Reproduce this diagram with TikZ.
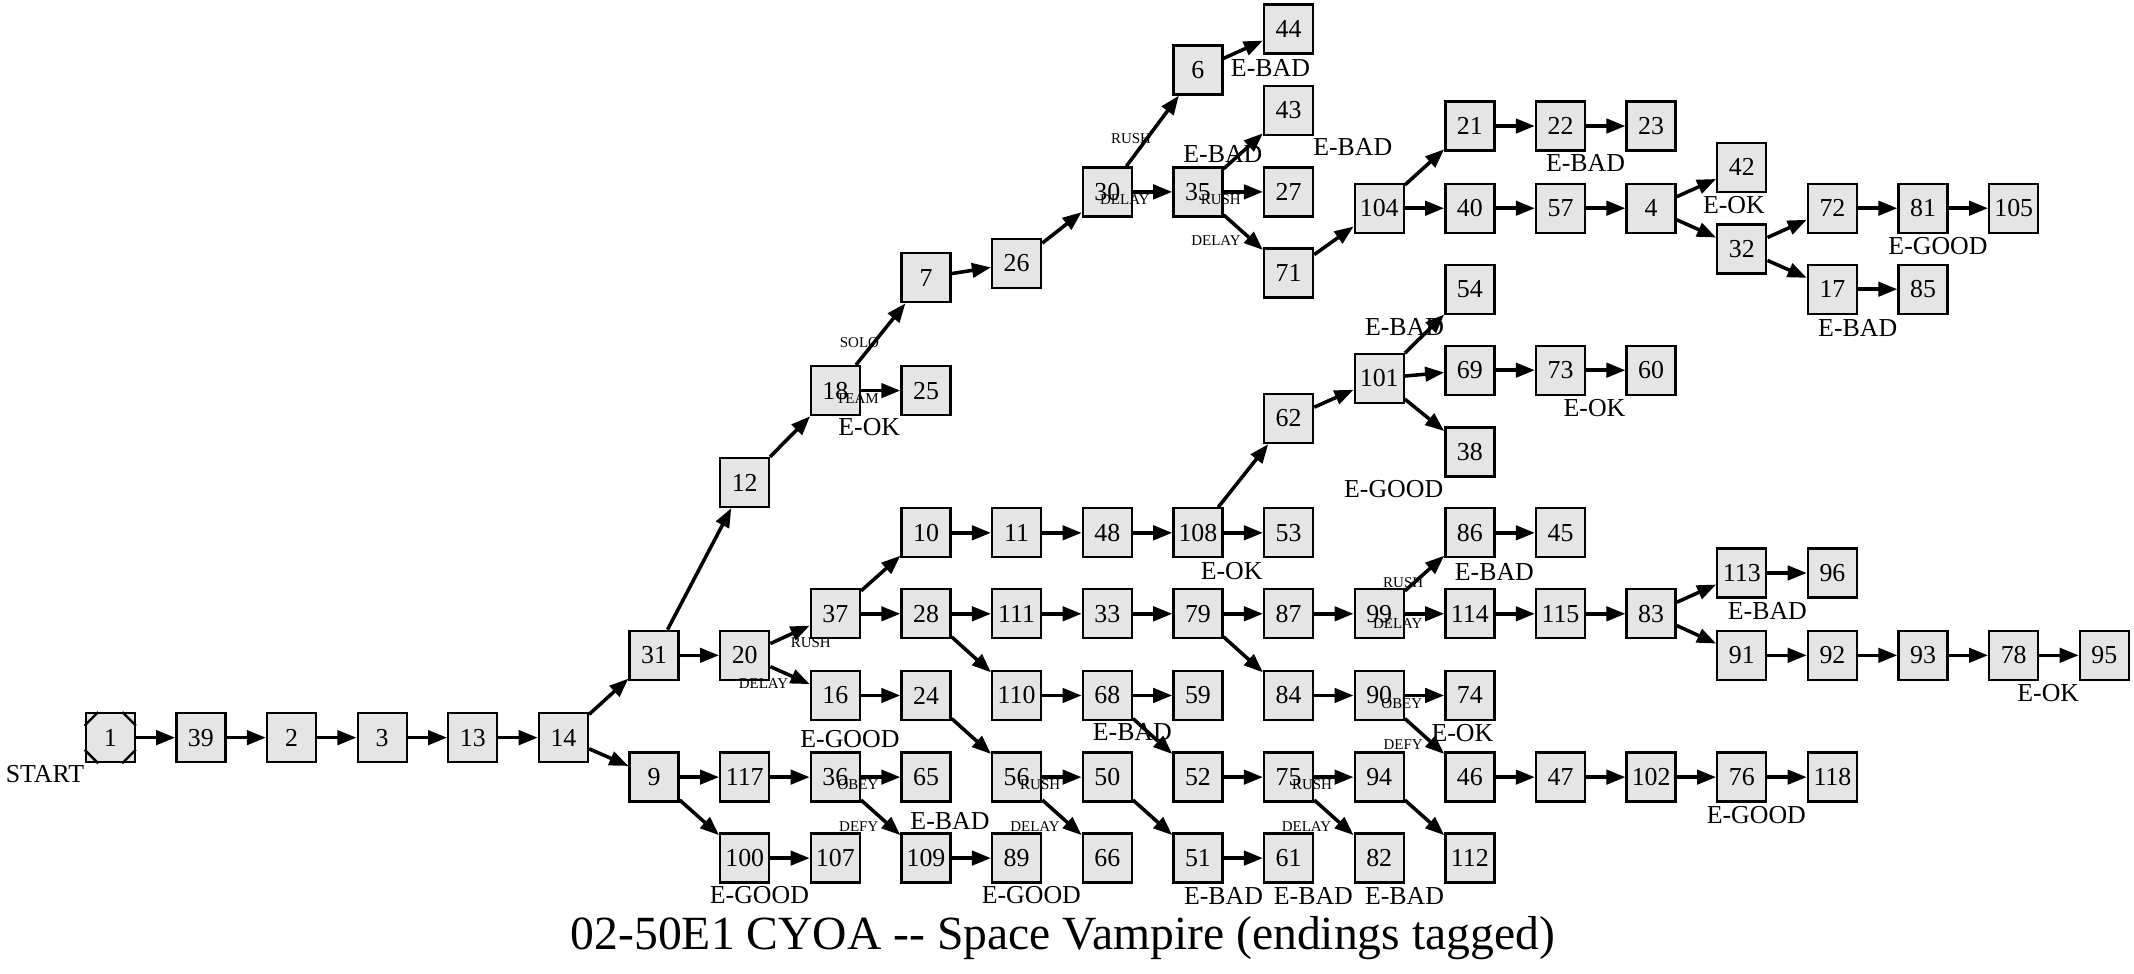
\documentclass[tikz,border=0pt]{standalone}
\usepackage{fontspec}
\setmainfont{Liberation Serif}
\usepackage{tikz}
\usetikzlibrary{positioning, arrows.meta}
\definecolor{boxgray}{HTML}{E5E5E5}

\begin{document}
\begin{tikzpicture}[x=1pt, y=-1pt, node distance=66.6pt, on grid,
    >={Triangle[length=14pt, width=10.5pt]},
    page/.style={draw, rectangle, line width=1.7pt, fill=boxgray, minimum size=36pt, inner sep=0pt, font=\fontsize{19}{19}\selectfont},
    tag/.style={inner sep=0pt, font=\fontsize{19}{19}\selectfont},
    choice/.style={inner sep=0pt, font=\fontsize{11}{11}\selectfont},
    link/.style={->, line width=2.6pt}]
\useasboundingbox (0,0) rectangle (1568,715);

% Start row
\node[page] (n1) at (81,542) {1};
\node[page, right=of n1] (n39) {39};
\node[page, right=of n39] (n2) {2};
\node[page, right=of n2] (n3) {3};
\node[page, right=of n3] (n13) {13};
\node[page, right=of n13] (n14) {14};
\draw[line width=1.7pt] ([yshift=-10pt]n1.north west) -- ([xshift=10pt]n1.north west)
    ([xshift=-10pt]n1.north east) -- ([yshift=-10pt]n1.north east)
    ([yshift=10pt]n1.south east) -- ([xshift=-10pt]n1.south east)
    ([xshift=10pt]n1.south west) -- ([yshift=10pt]n1.south west);

% Upper branch
\node[page] (n31) at (480.6,481.5) {31};
\node[page, right=of n31] (n20) {20};
\node[page] (n12) at (547.2,354.5) {12};
\node[page] (n18) at (613.8,287) {18};
\node[page, right=of n18] (n25) {25};
\node[page] (n7) at (680.4,204) {7};
\node[page] (n26) at (747,193.5) {26};
\node[page] (n30) at (813.6,141) {30};
\node[page, right=of n30] (n35) {35};
\node[page, right=of n35] (n27) {27};
\node[page] (n6) at (880.2,51.4) {6};
\node[page] (n44) at (946.8,21.3) {44};
\node[page] (n43) at (946.8,81) {43};
\node[page] (n71) at (946.8,200.5) {71};
\node[page] (n104) at (1013.4,153) {104};
\node[page, right=of n104] (n40) {40};
\node[page, right=of n40] (n57) {57};
\node[page, right=of n57] (n4) {4};
\node[page] (n21) at (1080,92.6) {21};
\node[page, right=of n21] (n22) {22};
\node[page, right=of n22] (n23) {23};
\node[page] (n42) at (1279.8,123) {42};
\node[page] (n32) at (1279.8,183) {32};
\node[page] (n72) at (1346.4,153) {72};
\node[page, right=of n72] (n81) {81};
\node[page, right=of n81] (n105) {105};
\node[page] (n17) at (1346.4,212.5) {17};
\node[page, right=of n17] (n85) {85};

% Middle rows
\node[page] (n10) at (680.4,391.5) {10};
\node[page, right=of n10] (n11) {11};
\node[page, right=of n11] (n48) {48};
\node[page, right=of n48] (n108) {108};
\node[page, right=of n108] (n53) {53};
\node[page] (n62) at (946.8,307.5) {62};
\node[page] (n101) at (1013.4,278) {101};
\node[page] (n54) at (1080,212.5) {54};
\node[page] (n69) at (1080,272) {69};
\node[page, right=of n69] (n73) {73};
\node[page, right=of n73] (n60) {60};
\node[page] (n38) at (1080,332) {38};
\node[page] (n86) at (1080,391.5) {86};
\node[page, right=of n86] (n45) {45};

\node[page] (n37) at (613.8,451) {37};
\node[page, right=of n37] (n28) {28};
\node[page, right=of n28] (n111) {111};
\node[page, right=of n111] (n33) {33};
\node[page, right=of n33] (n79) {79};
\node[page, right=of n79] (n87) {87};
\node[page, right=of n87] (n99) {99};
\node[page, right=of n99] (n114) {114};
\node[page, right=of n114] (n115) {115};
\node[page, right=of n115] (n83) {83};
\node[page] (n113) at (1279.8,421) {113};
\node[page, right=of n113] (n96) {96};
\node[page] (n91) at (1279.8,481.5) {91};
\node[page, right=of n91] (n92) {92};
\node[page, right=of n92] (n93) {93};
\node[page, right=of n93] (n78) {78};
\node[page, right=of n78] (n95) {95};

\node[page] (n16) at (613.8,511) {16};
\node[page, right=of n16] (n24) {24};
\node[page, right=of n24] (n110) {110};
\node[page, right=of n110] (n68) {68};
\node[page, right=of n68] (n59) {59};
\node[page, right=of n59] (n84) {84};
\node[page, right=of n84] (n90) {90};
\node[page, right=of n90] (n74) {74};

% Lower rows
\node[page] (n9) at (480.6,571) {9};
\node[page, right=of n9] (n117) {117};
\node[page, right=of n117] (n36) {36};
\node[page, right=of n36] (n65) {65};
\node[page, right=of n65] (n56) {56};
\node[page, right=of n56] (n50) {50};
\node[page, right=of n50] (n52) {52};
\node[page, right=of n52] (n75) {75};
\node[page, right=of n75] (n94) {94};
\node[page, right=of n94] (n46) {46};
\node[page, right=of n46] (n47) {47};
\node[page, right=of n47] (n102) {102};
\node[page, right=of n102] (n76) {76};
\node[page, right=of n76] (n118) {118};

\node[page] (n100) at (547.2,630.5) {100};
\node[page, right=of n100] (n107) {107};
\node[page, right=of n107] (n109) {109};
\node[page, right=of n109] (n89) {89};
\node[page, right=of n89] (n66) {66};
\node[page, right=of n66] (n51) {51};
\node[page, right=of n51] (n61) {61};
\node[page, right=of n61] (n82) {82};
\node[page, right=of n82] (n112) {112};

% Connections
\draw[link] (n1) -- (n39);
\draw[link] (n39) -- (n2);
\draw[link] (n2) -- (n3);
\draw[link] (n3) -- (n13);
\draw[link] (n13) -- (n14);
\draw[link] (n14) -- (n31);
\draw[link] (n14) -- (n9);
\draw[link] (n31) -- (n12);
\draw[link] (n31) -- (n20);
\draw[link] (n12) -- (n18);
\draw[link] (n18) -- (n7);
\draw[link] (n18) -- (n25);
\draw[link] (n7) -- (n26);
\draw[link] (n26) -- (n30);
\draw[link] (n30) -- (n6);
\draw[link] (n30) -- (n35);
\draw[link] (n6) -- (n44);
\draw[link] (n35) -- (n43);
\draw[link] (n35) -- (n27);
\draw[link] (n35) -- (n71);
\draw[link] (n71) -- (n104);
\draw[link] (n104) -- (n21);
\draw[link] (n104) -- (n40);
\draw[link] (n21) -- (n22);
\draw[link] (n22) -- (n23);
\draw[link] (n40) -- (n57);
\draw[link] (n57) -- (n4);
\draw[link] (n4) -- (n42);
\draw[link] (n4) -- (n32);
\draw[link] (n32) -- (n72);
\draw[link] (n32) -- (n17);
\draw[link] (n72) -- (n81);
\draw[link] (n81) -- (n105);
\draw[link] (n17) -- (n85);

\draw[link] (n20) -- (n37);
\draw[link] (n20) -- (n16);
\draw[link] (n37) -- (n10);
\draw[link] (n37) -- (n28);
\draw[link] (n10) -- (n11);
\draw[link] (n11) -- (n48);
\draw[link] (n48) -- (n108);
\draw[link] (n108) -- (n62);
\draw[link] (n108) -- (n53);
\draw[link] (n62) -- (n101);
\draw[link] (n101) -- (n54);
\draw[link] (n101) -- (n69);
\draw[link] (n101) -- (n38);
\draw[link] (n69) -- (n73);
\draw[link] (n73) -- (n60);
\draw[link] (n28) -- (n111);
\draw[link] (n28) -- (n110);
\draw[link] (n111) -- (n33);
\draw[link] (n33) -- (n79);
\draw[link] (n79) -- (n87);
\draw[link] (n79) -- (n84);
\draw[link] (n87) -- (n99);
\draw[link] (n99) -- (n86);
\draw[link] (n99) -- (n114);
\draw[link] (n86) -- (n45);
\draw[link] (n114) -- (n115);
\draw[link] (n115) -- (n83);
\draw[link] (n83) -- (n113);
\draw[link] (n83) -- (n91);
\draw[link] (n113) -- (n96);
\draw[link] (n91) -- (n92);
\draw[link] (n92) -- (n93);
\draw[link] (n93) -- (n78);
\draw[link] (n78) -- (n95);
\draw[link] (n16) -- (n24);
\draw[link] (n24) -- (n56);
\draw[link] (n110) -- (n68);
\draw[link] (n68) -- (n59);
\draw[link] (n68) -- (n52);
\draw[link] (n84) -- (n90);
\draw[link] (n90) -- (n74);
\draw[link] (n90) -- (n46);
\draw[link] (n46) -- (n47);
\draw[link] (n47) -- (n102);
\draw[link] (n102) -- (n76);
\draw[link] (n76) -- (n118);

\draw[link] (n9) -- (n117);
\draw[link] (n9) -- (n100);
\draw[link] (n117) -- (n36);
\draw[link] (n36) -- (n65);
\draw[link] (n36) -- (n109);
\draw[link] (n56) -- (n50);
\draw[link] (n56) -- (n66);
\draw[link] (n50) -- (n51);
\draw[link] (n52) -- (n75);
\draw[link] (n75) -- (n94);
\draw[link] (n75) -- (n82);
\draw[link] (n94) -- (n112);
\draw[link] (n100) -- (n107);
\draw[link] (n109) -- (n89);
\draw[link] (n51) -- (n61);

% Choice labels
\node[choice] (solo) at (631.5,252) {SOLO};
\node[choice] (team) at (630,293) {TEAM};
\node[choice] (rush30) at (831,102) {RUSH};
\node[choice] (delay30) at (826.5,147) {DELAY};
\node[choice] (rush35) at (897,147) {RUSH};
\node[choice] (delay35) at (893.5,177) {DELAY};
\node[choice] (rush20) at (595.7,472) {RUSH};
\node[choice] (delay20) at (561,502.5) {DELAY};
\node[choice] (obey36) at (630.4,576.4) {OBEY};
\node[choice] (defy36) at (631,607) {DEFY};
\node[choice] (rush56) at (764.3,576.4) {RUSH};
\node[choice] (delay56) at (760.5,607) {DELAY};
\node[choice] (rush75) at (964,576.4) {RUSH};
\node[choice] (delay75) at (960,607) {DELAY};
\node[choice] (rush99) at (1031,428) {RUSH};
\node[choice] (delay99) at (1027,458) {DELAY};
\node[choice] (obey90) at (1030,517) {OBEY};
\node[choice] (defy90) at (1031,547) {DEFY};

% Ending tags
\node[tag] (start) at (33,569) {START};
\node[tag] (e44) at (933.5,50) {E-BAD};
\node[tag] (e35) at (898.5,113) {E-BAD};
\node[tag] (e43) at (994,108) {E-BAD};
\node[tag] (e22) at (1165,120) {E-BAD};
\node[tag] (e42) at (1274,151) {E-OK};
\node[tag] (e81) at (1424,181) {E-GOOD};
\node[tag] (e17) at (1365,241) {E-BAD};
\node[tag] (e54) at (1032,240.6) {E-BAD};
\node[tag] (e73) at (1171.6,300) {E-OK};
\node[tag] (e38) at (1024,359) {E-GOOD};
\node[tag] (e18) at (638.7,314) {E-OK};
\node[tag] (e108) at (905,419.5) {E-OK};
\node[tag] (e86) at (1098,420) {E-BAD};
\node[tag] (e113) at (1298.6,449) {E-BAD};
\node[tag] (e78) at (1505,509.5) {E-OK};
\node[tag] (e16) at (624.5,543) {E-GOOD};
\node[tag] (e68) at (832,538) {E-BAD};
\node[tag] (e74) at (1074.5,538.5) {E-OK};
\node[tag] (e65) at (698,603) {E-BAD};
\node[tag] (e76) at (1290.5,599) {E-GOOD};
\node[tag] (e100) at (558,658) {E-GOOD};
\node[tag] (e89) at (757.8,658) {E-GOOD};
\node[tag] (e51) at (899,658) {E-BAD};
\node[tag] (e61) at (965,658) {E-BAD};
\node[tag] (e82) at (1032,658) {E-BAD};

% Title
\node[anchor=base, inner sep=0pt, font=\fontsize{35}{35}\selectfont] (title) at (781,698) {02-50E1 CYOA -\kern0pt- Space Vampire (endings tagged)};
\end{tikzpicture}
\end{document}
